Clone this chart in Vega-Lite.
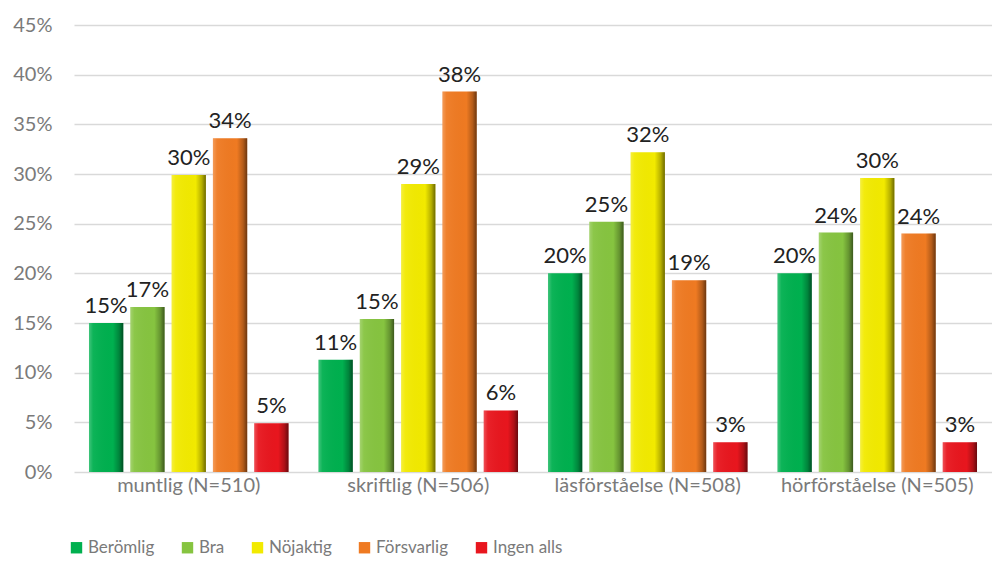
{
  "$schema": "https://vega.github.io/schema/vega-lite/v6.json",
  "width": 918,
  "height": 447,
  "autosize": "none",
  "padding": {"left": 74, "top": 25, "right": 0, "bottom": 91},
  "background": "white",
  "config": {
    "view": {"stroke": null},
    "font": "Lato",
    "axis": {"labelFont": "Lato", "labelColor": "#7a7a7a", "labelFontSize": 20}
  },
  "data": {
    "values": [
      {"group": "muntlig (N=510)", "serie": "Berömlig", "value": 0.150},
      {"group": "muntlig (N=510)", "serie": "Bra", "value": 0.166},
      {"group": "muntlig (N=510)", "serie": "Nöjaktig", "value": 0.299},
      {"group": "muntlig (N=510)", "serie": "Försvarlig", "value": 0.336},
      {"group": "muntlig (N=510)", "serie": "Ingen alls", "value": 0.049},
      {"group": "skriftlig (N=506)", "serie": "Berömlig", "value": 0.113},
      {"group": "skriftlig (N=506)", "serie": "Bra", "value": 0.154},
      {"group": "skriftlig (N=506)", "serie": "Nöjaktig", "value": 0.290},
      {"group": "skriftlig (N=506)", "serie": "Försvarlig", "value": 0.383},
      {"group": "skriftlig (N=506)", "serie": "Ingen alls", "value": 0.062},
      {"group": "läsförståelse (N=508)", "serie": "Berömlig", "value": 0.200},
      {"group": "läsförståelse (N=508)", "serie": "Bra", "value": 0.252},
      {"group": "läsförståelse (N=508)", "serie": "Nöjaktig", "value": 0.322},
      {"group": "läsförståelse (N=508)", "serie": "Försvarlig", "value": 0.193},
      {"group": "läsförståelse (N=508)", "serie": "Ingen alls", "value": 0.030},
      {"group": "hörförståelse (N=505)", "serie": "Berömlig", "value": 0.200},
      {"group": "hörförståelse (N=505)", "serie": "Bra", "value": 0.241},
      {"group": "hörförståelse (N=505)", "serie": "Nöjaktig", "value": 0.296},
      {"group": "hörförståelse (N=505)", "serie": "Försvarlig", "value": 0.240},
      {"group": "hörförståelse (N=505)", "serie": "Ingen alls", "value": 0.030}
    ]
  },
  "encoding": {
    "x": {
      "field": "group",
      "type": "nominal",
      "sort": null,
      "scale": {"paddingInner": 0.1, "paddingOuter": 0.05},
      "axis": {"title": null, "labelAngle": 0, "domain": false, "ticks": false, "labelPadding": 3, "labelLimit": 400, "labelFontSize": 20}
    },
    "xOffset": {
      "field": "serie",
      "type": "nominal",
      "sort": ["Berömlig", "Bra", "Nöjaktig", "Försvarlig", "Ingen alls"],
      "scale": {"paddingInner": 0.17, "paddingOuter": 0.085}
    },
    "y": {
      "field": "value",
      "type": "quantitative",
      "scale": {"domain": [0, 0.45], "nice": false},
      "axis": {
        "title": null,
        "format": ".0%",
        "values": [0, 0.05, 0.1, 0.15, 0.2, 0.25, 0.3, 0.35, 0.4, 0.45],
        "labelOverlap": false,
        "labelFlush": false,
        "domain": false,
        "ticks": false,
        "labelPadding": 22,
        "gridColor": "#d9d9d9",
        "gridWidth": 1.5
      }
    }
  },
  "layer": [
    {
      "mark": {"type": "bar"},
      "encoding": {
        "color": {
          "field": "serie",
          "type": "nominal",
          "scale": {
            "domain": ["Berömlig", "Bra", "Nöjaktig", "Försvarlig", "Ingen alls"],
            "range": ["#00b04f", "#86c440", "#f2ea00", "#ef7a22", "#e8161e"]
          },
          "legend": {
            "title": null,
            "orient": "none",
            "direction": "horizontal",
            "legendX": -6,
            "legendY": 514,
            "symbolType": "square",
            "symbolSize": 130,
            "symbolStrokeWidth": 0,
            "labelFont": "Lato",
            "labelFontSize": 17,
            "labelColor": "#7a7a7a",
            "labelOffset": 3,
            "columnPadding": 24
          }
        }
      }
    },
    {
      "mark": {
        "type": "bar",
        "fill": {
          "gradient": "linear",
          "x1": 0, "x2": 1, "y1": 0, "y2": 0,
          "stops": [
            {"offset": 0, "color": "rgba(255,255,255,0.25)"},
            {"offset": 0.12, "color": "rgba(255,255,255,0.05)"},
            {"offset": 0.7, "color": "rgba(0,0,0,0)"},
            {"offset": 0.88, "color": "rgba(0,0,0,0.25)"},
            {"offset": 1, "color": "rgba(0,0,0,0.55)"}
          ]
        }
      }
    },
    {
      "mark": {"type": "text", "baseline": "bottom", "dy": -5, "fontSize": 22, "color": "#222222", "font": "Lato"},
      "encoding": {
        "text": {"field": "value", "type": "quantitative", "format": ".0%"}
      }
    }
  ]
}
